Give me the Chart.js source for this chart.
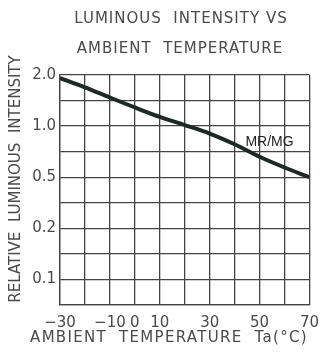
<!DOCTYPE html>
<html>
<head>
<meta charset="utf-8">
<script src="https://cdn.jsdelivr.net/npm/chart.js@4.4.1/dist/chart.umd.min.js"></script>
<style>
  html, body { margin: 0; padding: 0; background: #fff; }
</style>
</head>
<body>
<canvas id="grafica" width="328" height="358"></canvas>
<script>
// temperature (deg C) along the bottom
var temperatures = [-30, -20, -10, 0, 10, 20, 30, 40, 50, 60, 70];
// curve height, counted in grid rows down from the 2.0 line
var curveRows = [0.12, 0.48, 0.88, 1.27, 1.64, 1.96, 2.29, 2.71, 3.2, 3.62, 4.0];
// labels of the 10 horizontal grid lines, top to bottom
var yTickLabels = ['2.0', '', '1.0', '', '0.5', '', '0.2', '', '0.1', ''];
// temperatures that get a label under the axis
var xTickLabels = [-30, -10, 0, 10, 30, 50, 70];
var titleLines = ['LUMINOUS  INTENSITY VS', 'AMBIENT  TEMPERATURE'];
var xTitle = 'AMBIENT  TEMPERATURE  Ta(\u00b0C)';
var yTitle = 'RELATIVE  LUMINOUS  INTENSITY';
var seriesName = 'MR/MG';

var points = temperatures.map(function (t, i) { return { x: t, y: curveRows[i] }; });

var textPlugin = {
    id: 'texts',
    afterDraw: function (chart) {
        var c = chart.ctx;
        var xs = chart.scales.x, ys = chart.scales.y;
        c.save();
        c.fillStyle = '#4a4a4a';
        c.textAlign = 'center';
        c.textBaseline = 'middle';
        c.font = '15px "DejaVu Sans"';
        c.letterSpacing = '1px';
        c.fillText(titleLines[0], 181, 19);
        c.fillText(titleLines[1], 180, 49);
        c.letterSpacing = '1.3px';
        c.fillText(xTitle, 169, 338);
        c.letterSpacing = '0px';
        c.translate(16, 179);
        c.rotate(-Math.PI / 2);
        c.fillText(yTitle, 0, 0);
        c.restore();

        c.save();
        c.fillStyle = '#222';
        c.font = '14px "Liberation Sans"';
        c.textAlign = 'center';
        c.textBaseline = 'middle';
        c.fillText(seriesName, xs.getPixelForValue(54), ys.getPixelForValue(2.64));
        c.restore();
    }
};

var ctx = document.getElementById('grafica').getContext('2d');
var grafica = new Chart(ctx, {
    type: 'line',
    data: {
        datasets: [{
            label: seriesName,
            data: points,
            borderColor: '#1e2824',
            borderWidth: 4,
            pointRadius: 0,
            cubicInterpolationMode: 'monotone',
            fill: false
        }]
    },
    options: {
        responsive: false,
        animation: false,
        devicePixelRatio: 1,
        layout: { padding: { left: 0, top: 75, right: 13, bottom: 0 } },
        plugins: {
            legend: { display: false },
            tooltip: { enabled: false },
            title: { display: false }
        },
        scales: {
            x: {
                type: 'linear',
                min: -30,
                max: 70,
                ticks: {
                    stepSize: 10,
                    autoSkip: false,
                    maxRotation: 0,
                    minRotation: 0,
                    padding: 9,
                    color: '#4a4a4a',
                    font: { family: 'DejaVu Sans', size: 15 },
                    callback: function (v) {
                        if (xTickLabels.indexOf(v) < 0) return '';
                        return v < 0 ? '\u2212' + Math.abs(v) : String(v);
                    }
                },
                grid: { color: '#444', lineWidth: 1.3, drawTicks: false },
                border: { color: '#444', width: 1.3 },
                afterFit: function (s) { s.height = 53; }
            },
            y: {
                type: 'linear',
                reverse: true,
                min: 0,
                max: 9,
                ticks: {
                    stepSize: 1,
                    autoSkip: false,
                    padding: 4,
                    color: '#4a4a4a',
                    font: { family: 'DejaVu Sans', size: 15 },
                    callback: function (v) { return yTickLabels[v] || ''; }
                },
                grid: { color: '#444', lineWidth: 1.3, drawTicks: false },
                border: { color: '#444', width: 1.3 },
                afterFit: function (s) { s.width = 60; }
            }
        }
    },
    plugins: [textPlugin]
});
</script>
</body>
</html>
